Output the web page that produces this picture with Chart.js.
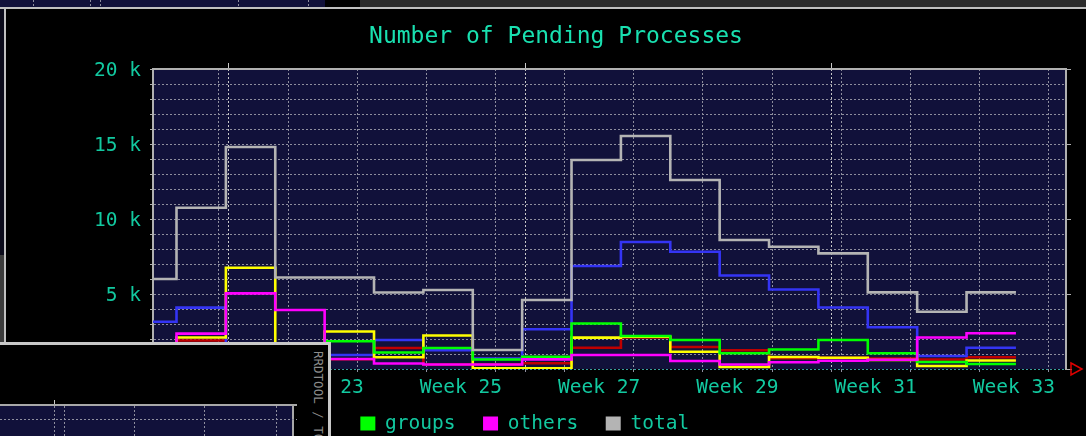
<!DOCTYPE html>
<html>
<head>
<meta charset="utf-8">
<title>Number of Pending Processes</title>
<script src="https://cdn.jsdelivr.net/npm/chart.js@4.4.0/dist/chart.umd.min.js"></script>
<style>
  html, body { margin: 0; padding: 0; background: #000; }
  body { width: 1086px; height: 436px; overflow: hidden; position: relative; }
  #container { position: absolute; left: 0; top: 0; width: 1086px; height: 436px; }
  .box { position: absolute; }
  .vdot { position: absolute; width: 1px; background: repeating-linear-gradient(to bottom, #8e8e9e 0 2px, transparent 2px 4px); }
  .hdot { position: absolute; height: 1px; background: repeating-linear-gradient(to right, #8e8e9e 0 2px, transparent 2px 4px); }
</style>
</head>
<body>
<div id="container"></div>

<!-- bits of the other windows around the graph -->
<div class="box" style="left:0;top:0;width:325px;height:7px;background:#11113a"></div>
<div class="vdot" style="left:33px;top:0;height:7px"></div>
<div class="vdot" style="left:90px;top:0;height:7px"></div>
<div class="vdot" style="left:100px;top:0;height:7px"></div>
<div class="vdot" style="left:238px;top:0;height:7px"></div>
<div class="vdot" style="left:308px;top:0;height:7px"></div>
<div class="box" style="left:360px;top:0;width:726px;height:7px;background:#2c2c2c"></div>
<div class="box" style="left:0;top:7px;width:1086px;height:2px;background:#c0c0c0"></div>
<div class="box" style="left:0;top:9px;width:4px;height:246px;background:#0c0c1c"></div>
<div class="box" style="left:0;top:255px;width:4px;height:87px;background:#3c3c3c"></div>
<div class="box" style="left:4px;top:7px;width:2px;height:335px;background:#c0c0c0"></div>

<!-- window in front, lower left -->
<div class="box" style="left:0;top:342px;width:328px;height:91px;background:#000;border-top:3px solid #c8c8c8;border-right:3px solid #c8c8c8"></div>
<div class="box" style="left:0;top:406px;width:292px;height:30px;background:#11113a"></div>
<div class="box" style="left:0;top:404px;width:297px;height:2px;background:#a8a8a8"></div>
<div class="box" style="left:292px;top:404px;width:2px;height:32px;background:#a8a8a8"></div>
<div class="box" style="left:54px;top:400px;width:1px;height:4px;background:#c8c8c8"></div>
<div class="vdot" style="left:54px;top:406px;height:30px"></div>
<div class="vdot" style="left:64px;top:406px;height:30px"></div>
<div class="vdot" style="left:134px;top:406px;height:30px"></div>
<div class="vdot" style="left:204px;top:406px;height:30px"></div>
<div class="vdot" style="left:276px;top:406px;height:30px"></div>
<div class="hdot" style="left:0;top:419px;width:297px"></div>
<div class="box" style="left:312px;top:351px;writing-mode:vertical-rl;white-space:nowrap;font:12.5px 'DejaVu Sans Mono';line-height:13px;color:#8c8c8c">RRDTOOL / TOBI OETIKER</div>

<script>
// x is in days from Monday 31 May (first day of week 22)
var days = [-9.3, -4.3, 0.7, 5.7, 10.7, 15.7, 20.7, 25.7, 30.7, 35.7, 40.7, 45.7, 50.7, 55.7, 60.7, 65.7, 70.7, 75.7, 80.7];

// one value per step, the last one repeated to close the last step
var admin  = [1200, 1900, 1500, 1300, 650, 1400, 300, 300, 380, 1420, 2100, 1470, 1250, 720, 750, 700, 630, 780, 780];
var staff  = [3150, 4090, 1000, 900, 930, 1930, 1250, 700, 2650, 6870, 8470, 7820, 6230, 5300, 4100, 2780, 870, 1420, 1420];
var users  = [1500, 2100, 6750, 1600, 2500, 780, 2230, 50, 50, 2090, 2150, 1150, 130, 800, 750, 600, 200, 570, 570];
var groups = [1000, 1200, 1400, 1500, 1850, 1100, 1400, 630, 820, 3030, 2200, 1930, 1050, 1300, 1930, 1050, 470, 330, 330];
var others = [1200, 2360, 5040, 3930, 670, 370, 300, 300, 640, 930, 930, 530, 300, 450, 550, 620, 2100, 2380, 2380];
var total  = [6000, 10750, 14800, 6100, 6100, 5100, 5270, 1270, 4600, 13930, 15530, 12600, 8600, 8150, 7710, 5110, 3820, 5110, 5110];

var weekLines = [0, 7, 14, 21, 28, 35, 42, 49, 56, 63, 70, 77, 84];
var monthLines = [1, 31, 62];
var weekLabelDays = [10.5, 24.5, 38.5, 52.5, 66.5, 80.5];
var weekLabels = ['Week 23', 'Week 25', 'Week 27', 'Week 29', 'Week 31', 'Week 33'];
var yMajor = [0, 5000, 10000, 15000, 20000];
var yMajorLabels = ['0', '5 k', '10 k', '15 k', '20 k'];

var xMin = -6.68, xMax = 85.77;
var labelColor = '#12c9a0';
var gridColor = '#8e8e9e';
var axisColor = '#b0b0b0';
var mono = 'DejaVu Sans Mono';

var chartCanvas = document.createElement('canvas');
chartCanvas.id = 'chartcanvas';
chartCanvas.width = 1086;
chartCanvas.height = 436;
document.getElementById('container').appendChild(chartCanvas);

function series(label, values, color, order) {
    return {
        label: label,
        data: days.map(function (d, i) { return { x: d, y: values[i] }; }),
        borderColor: color,
        backgroundColor: color,
        borderWidth: 2.6,
        pointRadius: 0,
        stepped: true,
        order: order,
    };
}

// navy plot area and the red arrow at the end of the time axis
var rrdLook = {
    id: 'rrdLook',
    beforeDraw: function (chart) {
        var a = chart.chartArea, ctx = chart.ctx;
        ctx.save();
        ctx.fillStyle = '#11113a';
        ctx.fillRect(a.left, a.top, a.right - a.left, a.bottom - a.top);
        ctx.restore();
    },
    afterDraw: function (chart) {
        var a = chart.chartArea, ctx = chart.ctx;
        ctx.save();
        ctx.strokeStyle = axisColor;
        ctx.lineWidth = 1;
        ctx.beginPath();
        ctx.moveTo(a.right, a.bottom + 0.5);
        ctx.lineTo(a.right + 6, a.bottom + 0.5);
        ctx.stroke();
        ctx.strokeStyle = '#e00000';
        ctx.lineWidth = 1.5;
        ctx.beginPath();
        ctx.moveTo(a.right + 5, a.bottom - 6);
        ctx.lineTo(a.right + 16, a.bottom);
        ctx.lineTo(a.right + 5, a.bottom + 6);
        ctx.closePath();
        ctx.stroke();
        ctx.restore();
    },
};

var myChart = new Chart(chartCanvas, {
    type: 'line',
    data: {
        datasets: [
            series('admin', admin, '#c00000', 5),
            series('staff', staff, '#3434f4', 4),
            series('users', users, '#ffff00', 3),
            series('groups', groups, '#00ff00', 2),
            series('others', others, '#ff00ff', 1),
            series('total', total, '#b4b4b4', 0),
        ],
    },
    plugins: [rrdLook],
    options: {
        responsive: false,
        animation: false,
        events: [],
        layout: { padding: { left: 0, right: -26, top: 0, bottom: -7.25 } },
        plugins: {
            title: {
                display: true,
                text: 'Number of Pending Processes',
                color: '#19e0b0',
                font: { family: mono, size: 23, weight: 'normal' },
                padding: { top: 23, bottom: 12 },
            },
            legend: {
                position: 'bottom',
                align: 'start',
                labels: {
                    color: labelColor,
                    font: { family: mono, size: 19.5 },
                    boxWidth: 15,
                    boxHeight: 14,
                    padding: 27.5,
                    sort: function (a, b) { return a.datasetIndex - b.datasetIndex; },
                    generateLabels: function (chart) {
                        return Chart.defaults.plugins.legend.labels.generateLabels(chart).map(function (l) {
                            l.lineWidth = 0;
                            return l;
                        });
                    },
                },
            },
            tooltip: { enabled: false },
        },
        scales: {
            x: {
                type: 'linear',
                position: 'bottom',
                min: xMin,
                max: xMax,
                afterBuildTicks: function (s) {
                    s.ticks = weekLines.concat(monthLines).sort(function (a, b) { return a - b; })
                        .map(function (v) { return { value: v }; });
                },
                afterFit: function (s) { s.height = 3; },
                ticks: { display: false },
                grid: {
                    color: function (c) {
                        return c.tick && monthLines.indexOf(c.tick.value) >= 0 ? '#c8c8c8' : gridColor;
                    },
                    tickLength: 3,
                    tickColor: gridColor,
                },
                border: { display: false, dash: [2, 2] },
            },
            xt: {
                type: 'linear',
                position: 'top',
                min: xMin,
                max: xMax,
                afterBuildTicks: function (s) {
                    s.ticks = monthLines.map(function (v) { return { value: v }; });
                },
                afterFit: function (s) { s.height = 69 - s.chart.titleBlock.height; },
                ticks: { display: false },
                grid: { drawOnChartArea: false, tickLength: 6, tickColor: '#c8c8c8' },
                border: { display: true, color: axisColor, width: 2 },
            },
            x2: {
                type: 'linear',
                position: 'bottom',
                min: xMin,
                max: xMax,
                afterBuildTicks: function (s) {
                    s.ticks = weekLabelDays.map(function (v) { return { value: v }; });
                },
                afterFit: function (s) { s.height = 386.25 - 369 - 3; },
                // mirror keeps the labels from being clipped to this thin axis box
                ticks: {
                    mirror: true,
                    color: labelColor,
                    font: { family: mono, size: 19.5 },
                    padding: -28,
                    autoSkip: false,
                    maxRotation: 0,
                    callback: function (v, i) { return weekLabels[i]; },
                },
                grid: { display: false, drawTicks: false },
                border: { display: false },
            },
            y: {
                type: 'linear',
                position: 'left',
                min: 0,
                max: 20000,
                afterFit: function (s) { s.width = 153; },
                ticks: {
                    stepSize: 1000,
                    autoSkip: false,
                    color: labelColor,
                    font: { family: mono, size: 19.5 },
                    padding: 9,
                    labelOffset: 2,
                    callback: function (v) {
                        var i = yMajor.indexOf(v);
                        return i < 0 ? '' : yMajorLabels[i];
                    },
                },
                grid: {
                    color: function (c) {
                        if (!c.tick) return gridColor;
                        if (c.tick.value === 0) return '#3c9c9c';
                        if (c.tick.value === 20000) return axisColor;
                        return gridColor;
                    },
                    tickLength: 3,
                    tickColor: axisColor,
                },
                border: {
                    display: true,
                    color: axisColor,
                    width: 2,
                    dash: function (c) { return c.tick && c.tick.value === 20000 ? [] : [2, 2]; },
                },
            },
            y2: {
                type: 'linear',
                position: 'right',
                min: 0,
                max: 20000,
                afterBuildTicks: function (s) {
                    s.ticks = yMajor.map(function (v) { return { value: v }; });
                },
                afterFit: function (s) { s.width = 46; },
                ticks: { display: false },
                grid: { drawOnChartArea: false, tickLength: 5, tickColor: axisColor },
                border: { display: true, color: axisColor, width: 2 },
            },
        },
    },
});
</script>
</body>
</html>
